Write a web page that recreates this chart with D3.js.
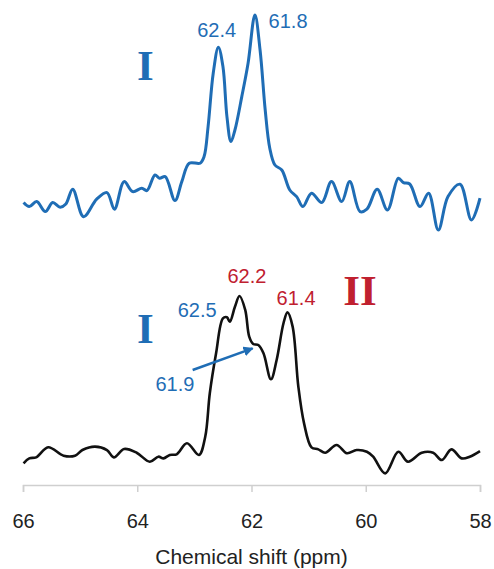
<!DOCTYPE html>
<html>
<head>
<meta charset="utf-8">
<script src="https://cdn.jsdelivr.net/npm/d3@7"></script>
<style>
  body { margin: 0; background: #fff; }
  svg { display: block; }
</style>
</head>
<body>
<script>
// spectrum I (top, blue)
const topPpm = [65.99, 65.89, 65.76, 65.61, 65.48, 65.35, 65.25, 65.13, 64.94, 64.71,
  64.53, 64.40, 64.23, 64.08, 63.92, 63.83, 63.69, 63.61, 63.51, 63.34,
  63.22, 63.09, 62.90, 62.83, 62.76, 62.67, 62.58, 62.50, 62.43, 62.36,
  62.29, 62.17, 62.06, 61.94, 61.85, 61.76, 61.68, 61.59, 61.47, 61.33,
  61.21, 61.10, 60.95, 60.77, 60.60, 60.42, 60.28, 60.10, 59.98, 59.80,
  59.62, 59.43, 59.34, 59.23, 59.05, 58.90, 58.73, 58.56, 58.35, 58.15, 58.00];
const topIntensity = [6.2, 4.2, 6.7, 1.7, 6.2, 3.9, 5.5, 12.9, -0.9, 7.9,
  11.2, 2.9, 16.7, 11.7, 13.4, 12.2, 20, 18.4, 19.2, 7.2,
  16.7, 25.9, 25.9, 29.2, 44.2, 70.9, 83.9, 74.2, 49.2, 36.7,
  42.5, 59.2, 75.9, 100, 82.5, 52.5, 33.4, 25, 22.5, 12.5,
  9.2, 4.2, 10.9, 6.2, 16.7, 6.7, 16.7, 1.7, 2.9, 12.9,
  2.5, 18.4, 16.2, 15.5, 4.2, 10.9, -7.5, 9.2, 15.4, -2.5, 8.4];

// spectrum I + II (bottom, black)
const bottomPpm = [65.99, 65.89, 65.77, 65.56, 65.29, 65.09, 64.96, 64.74, 64.53, 64.41,
  64.23, 64.01, 63.78, 63.63, 63.54, 63.43, 63.31, 63.13, 62.92, 62.81,
  62.73, 62.62, 62.50, 62.43, 62.38, 62.29, 62.21, 62.11, 62.04, 61.97,
  61.88, 61.79, 61.66, 61.56, 61.44, 61.37, 61.28, 61.18, 61.08, 60.95,
  60.83, 60.71, 60.51, 60.33, 60.16, 59.98, 59.87, 59.66, 59.43, 59.26,
  59.02, 58.82, 58.67, 58.50, 58.32, 58.18, 58.00];
const bottomIntensity = [1.0, 3.9, 4.5, 10.4, 5.5, 5.5, 8.8, 10.8, 8.8, 4.5,
  9.4, 7.2, 1.9, 4.9, 3.9, 5.9, 6.3, 12.8, 5.9, 16.6,
  42.2, 65.7, 86.3, 86.9, 84.3, 93.1, 99.4, 91.2, 75.5, 71.2,
  70.6, 65.7, 50.4, 61.8, 83.4, 89.8, 81.4, 46.1, 24.5, 10.4,
  9.2, 7.2, 11.8, 6.9, 8.8, 7.8, 4.9, -4.9, 7.8, 1.9,
  7.2, 7.2, 2.9, 9.2, 3.9, 4.9, 8.2];

const xTicks = [66, 64, 62, 60, 58];
const topPeakLabels = ['62.4', '61.8'];
const bottomPeakLabels = ['62.5', '62.2', '61.4', '61.9'];

const width = 494;
const height = 569;
const blue = '#1f6db5';
const red = '#c0202f';

const svg = d3.select('body').append('svg')
  .attr('width', width)
  .attr('height', height);

const x = d3.scaleLinear().domain([66, 58]).range([23, 480]);
const yTop = d3.scaleLinear().domain([0, 100]).range([215, 15]);
const yBottom = d3.scaleLinear().domain([0, 100]).range([465, 295]);

const topData = topPpm.map((p, i) => ({ ppm: p, v: topIntensity[i] }));
const bottomData = bottomPpm.map((p, i) => ({ ppm: p, v: bottomIntensity[i] }));

const lineTop = d3.line()
  .x(d => x(d.ppm))
  .y(d => yTop(d.v))
  .curve(d3.curveCatmullRom.alpha(0.5));

const lineBottom = d3.line()
  .x(d => x(d.ppm))
  .y(d => yBottom(d.v))
  .curve(d3.curveCatmullRom.alpha(0.5));

svg.append('path')
  .datum(topData)
  .attr('d', lineTop)
  .attr('fill', 'none')
  .attr('stroke', blue)
  .attr('stroke-width', 3)
  .attr('stroke-linejoin', 'round');

svg.append('path')
  .datum(bottomData)
  .attr('d', lineBottom)
  .attr('fill', 'none')
  .attr('stroke', '#111')
  .attr('stroke-width', 2.6)
  .attr('stroke-linejoin', 'round');

// x axis
const axis = svg.append('g')
  .attr('transform', 'translate(0,485)')
  .call(d3.axisBottom(x).tickValues(xTicks).tickSize(7).tickPadding(22).tickFormat(d3.format('d')));

axis.select('.domain').attr('stroke', '#cfcfcf').attr('stroke-width', 1.5);
axis.selectAll('.tick line').attr('stroke', '#cfcfcf').attr('stroke-width', 1.5);
axis.selectAll('.tick text')
  .attr('fill', '#222')
  .style('font-family', 'Liberation Sans, Arial, sans-serif')
  .style('font-size', '20px');

svg.append('text')
  .attr('x', (x(66) + x(58)) / 2)
  .attr('y', 564)
  .attr('text-anchor', 'middle')
  .attr('fill', '#222')
  .style('font-family', 'Liberation Sans, Arial, sans-serif')
  .style('font-size', '21px')
  .text('Chemical shift (ppm)');

// annotations
function label(px, py, txt, color) {
  svg.append('text')
    .attr('x', px)
    .attr('y', py)
    .attr('text-anchor', 'middle')
    .attr('fill', color)
    .style('font-family', 'Liberation Sans, Arial, sans-serif')
    .style('font-size', '20px')
    .style('font-weight', 500)
    .text(txt);
}

function roman(px, py, txt, color) {
  svg.append('text')
    .attr('x', px)
    .attr('y', py)
    .attr('text-anchor', 'middle')
    .attr('fill', color)
    .style('font-family', 'Liberation Serif, Times New Roman, serif')
    .style('font-weight', 'bold')
    .style('font-size', '43px')
    .text(txt);
}

label(x(62.61), yTop(89.2), topPeakLabels[0], blue);
label(x(61.36), yTop(93.4), topPeakLabels[1], blue);
roman(x(63.86), yTop(67.5), 'I', blue);

label(x(62.95), yBottom(86.9), bottomPeakLabels[0], blue);
label(x(62.08), yBottom(106.9), bottomPeakLabels[1], red);
label(x(61.22), yBottom(94.1), bottomPeakLabels[2], red);
label(x(63.34), yBottom(43.5), bottomPeakLabels[3], blue);
roman(x(63.86), yBottom(71.8), 'I', blue);
roman(x(60.10), yBottom(94.1), 'II', red);

// arrow pointing at 61.9 shoulder
svg.append('defs').append('marker')
  .attr('id', 'arrow')
  .attr('viewBox', '0 0 10 10')
  .attr('refX', 9)
  .attr('refY', 5)
  .attr('markerWidth', 4)
  .attr('markerHeight', 4)
  .attr('markerUnits', 'strokeWidth')
  .attr('orient', 'auto')
  .append('path')
  .attr('d', 'M0,0L10,5L0,10z')
  .attr('fill', blue);

svg.append('line')
  .attr('x1', x(63.03))
  .attr('y1', yBottom(55.9))
  .attr('x2', x(61.98))
  .attr('y2', yBottom(68.6))
  .attr('stroke', blue)
  .attr('stroke-width', 2.5)
  .attr('marker-end', 'url(#arrow)');
</script>
</body>
</html>
